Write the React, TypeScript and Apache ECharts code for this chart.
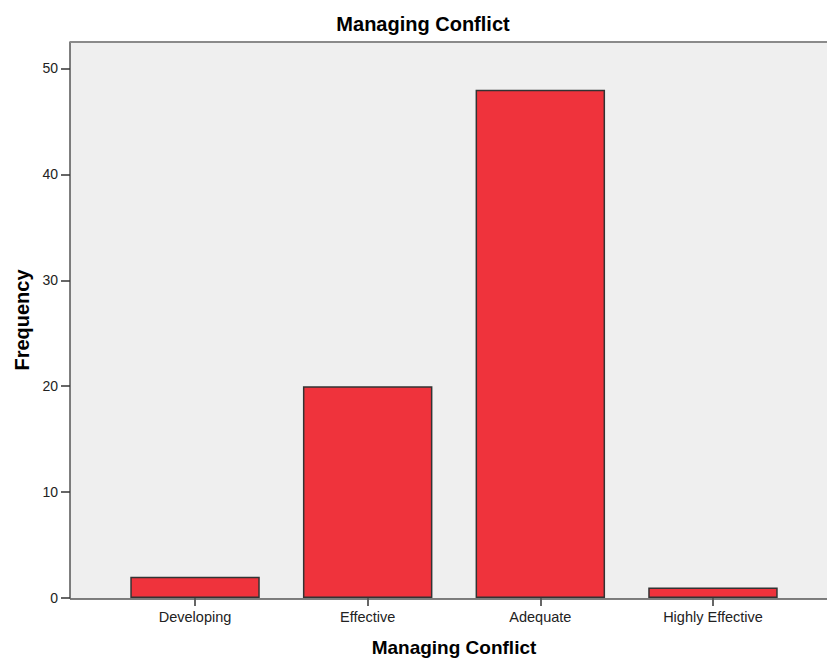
import React, { useEffect, useRef } from "react";
import * as echarts from "echarts";

const categories = ["Developing", "Effective", "Adequate", "Highly Effective"];
const frequencies = [2, 20, 48, 1];
const yTicks = [0, 10, 20, 30, 40, 50];

const FONT = "'Liberation Sans', Arial, sans-serif";

export default function App() {
  const ref = useRef<HTMLDivElement>(null);
  useEffect(() => {
    if (!ref.current) return;
    const chart = echarts.init(ref.current, null, { renderer: "svg" });
    const gridLeft = 108.7;
    const gridRight = 27.7;
    const gridTop = 42;
    const gridBottom = 63;
    const axisOffset = gridLeft - 70;
    chart.setOption({
      animation: false,
      backgroundColor: "#ffffff",
      textStyle: { fontFamily: FONT },
      title: {
        text: "Managing Conflict",
        left: 418,
        top: 9,
        textAlign: "center",
        textStyle: { fontFamily: FONT, fontSize: 20, fontWeight: "bold", color: "#000" },
      },
      graphic: [
        {
          type: "rect",
          z: -10,
          silent: true,
          shape: { x: 70, y: gridTop, width: 827 - 70 + 10, height: 662 - gridBottom - gridTop },
          style: { fill: "#efefef" },
        },
        {
          type: "line",
          z: 10,
          silent: true,
          shape: { x1: 70, y1: gridTop, x2: 840, y2: gridTop },
          style: { stroke: "#8a8a8a", lineWidth: 2 },
        },
        {
          type: "line",
          z: 10,
          silent: true,
          shape: { x1: 70, y1: 662 - gridBottom, x2: 840, y2: 662 - gridBottom },
          style: { stroke: "#555555", lineWidth: 1.5 },
        },
      ],
      grid: { left: gridLeft, right: gridRight, top: gridTop, bottom: gridBottom },
      xAxis: {
        type: "category",
        data: categories,
        name: "Managing Conflict",
        nameLocation: "middle",
        nameGap: 40,
        nameTextStyle: { fontFamily: FONT, fontSize: 19, fontWeight: "bold", color: "#000" },
        axisLine: { show: false },
        axisTick: { show: true, alignWithLabel: true, length: 8, lineStyle: { color: "#333", width: 1.5 } },
        axisLabel: { margin: 11, fontSize: 14.5, color: "#222", fontFamily: FONT },
      },
      yAxis: {
        type: "value",
        min: 0,
        max: 52.5,
        interval: 10,
        offset: axisOffset,
        name: "Frequency",
        nameLocation: "middle",
        nameGap: 38,
        nameTextStyle: { fontFamily: FONT, fontSize: 20, fontWeight: "bold", color: "#000" },
        splitLine: { show: false },
        axisLine: { show: true, lineStyle: { color: "#555", width: 1.5 } },
        axisTick: { show: true, length: 9, lineStyle: { color: "#333", width: 1.5 }, customValues: yTicks },
        axisLabel: { margin: 12, fontSize: 14, color: "#222", fontFamily: FONT, customValues: yTicks },
      },
      series: [
        {
          type: "bar",
          data: frequencies,
          barCategoryGap: "25%",
          itemStyle: { color: "#ef333c", borderColor: "#333333", borderWidth: 1.5 },
        },
      ],
    });
    return () => chart.dispose();
  }, []);
  return <div ref={ref} style={{ width: 827, height: 662, position: "absolute", left: 0, top: 0 }} />;
}
